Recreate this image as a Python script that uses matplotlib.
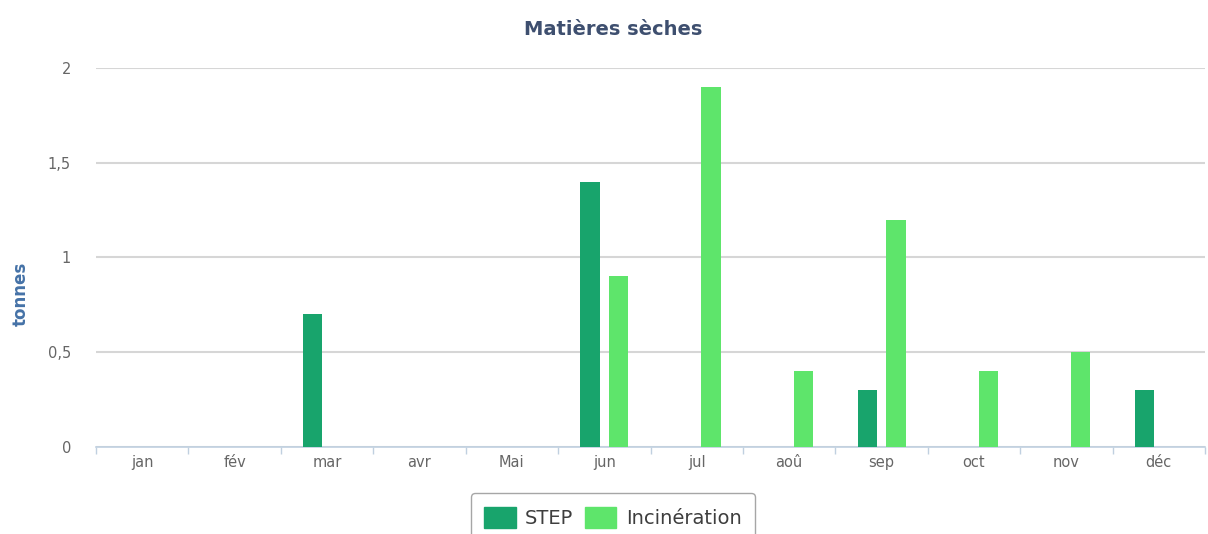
import numpy as np
import matplotlib.pyplot as plt
from matplotlib.patches import Patch

# Data
months = ['jan', 'fév', 'mar', 'avr', 'Mai', 'jun', 'jul', 'aoû', 'sep', 'oct', 'nov', 'déc']
step = [0, 0, 0.7, 0, 0, 1.4, 0, 0, 0.3, 0, 0, 0.3]
incineration = [0, 0, 0, 0, 0, 0.9, 1.9, 0.4, 1.2, 0.4, 0.5, 0]
yticks = [0, 0.5, 1, 1.5, 2]
ytick_labels = ['0', '0,5', '1', '1,5', '2']

c_step = '#18a46c'
c_inc = '#5ee56b'
grid_c = '#d6d6d6'
text_c = '#666666'

fig = plt.figure(figsize=(12.08, 5.34), dpi=100)
ax = fig.add_axes([0.0795, 0.163, 0.918, 0.7097])

x = np.arange(len(months))
w = 0.21
off = 0.155
for i in range(len(months)):
    if step[i] > 0:
        ax.bar(x[i] - off, step[i], width=w, color=c_step, zorder=3)
    if incineration[i] > 0:
        ax.bar(x[i] + off, incineration[i], width=w, color=c_inc, zorder=3)

ax.set_xlim(-0.5, len(months) - 0.5)
ax.set_ylim(0, 2)
ax.set_yticks(yticks)
ax.set_yticklabels(ytick_labels)
ax.yaxis.grid(True, color=grid_c, linewidth=1.5, zorder=0)
ax.tick_params(axis='y', length=0, pad=18, labelsize=10.5, labelcolor=text_c)

ax.set_xticks(x)
ax.set_xticklabels(months)
ax.set_xticks(np.arange(-0.5, len(months)), minor=True)
ax.tick_params(axis='x', which='major', length=0, pad=6, labelsize=10.5, labelcolor=text_c)
ax.tick_params(axis='x', which='minor', length=5, color='#c0d0e0', width=1)

for s in ['top', 'right', 'left']:
    ax.spines[s].set_visible(False)
ax.spines['bottom'].set_color('#c0d0e0')
ax.spines['bottom'].set_linewidth(1.2)

fig.text(0.5075, 0.945, 'Matières sèches', ha='center', va='center',
         fontsize=14, fontweight='bold', color='#3e4f6f')
fig.text(0.017, 0.45, 'tonnes', ha='center', va='center', rotation=90,
         fontsize=12, fontweight='bold', color='#4572a7')

handles = [Patch(color=c_step, label='STEP'), Patch(color=c_inc, label='Incinération')]
leg = fig.legend(handles=handles, loc='upper center', bbox_to_anchor=(0.5075, 0.0765),
                 borderaxespad=0, ncol=2, frameon=True, fontsize=14,
                 handlelength=1.6, handleheight=1.3, columnspacing=0.6,
                 handletextpad=0.5, borderpad=0.7, fancybox=True)
leg.get_frame().set_edgecolor('#909090')
leg.get_frame().set_linewidth(1.0)
for t in leg.get_texts():
    t.set_color('#3e3e3e')

fig.savefig('out.png', dpi=100)
